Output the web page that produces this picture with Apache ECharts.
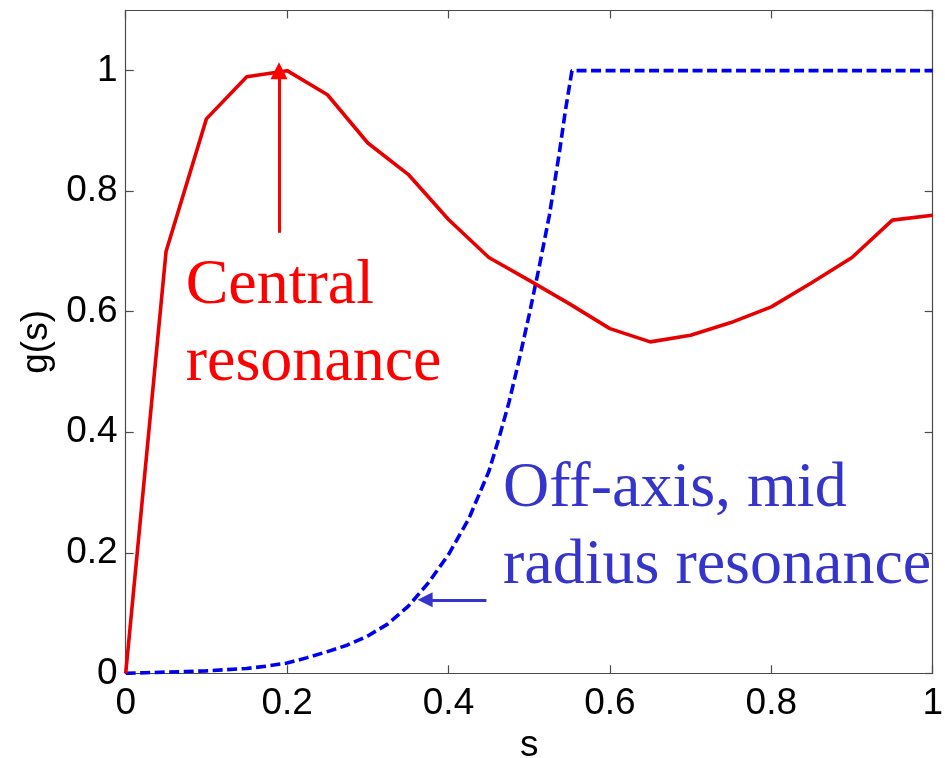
<!DOCTYPE html>
<html>
<head>
<meta charset="utf-8">
<script src="https://cdn.jsdelivr.net/npm/echarts@6/dist/echarts.min.js"></script>
<style>
  html, body { margin: 0; padding: 0; background: #ffffff; }
  #chart { width: 945px; height: 758px; }
</style>
</head>
<body>
<div id="chart"></div>
<script>
// Central resonance profile, sampled every 0.05 in s
const centralS = [0, 0.05, 0.1, 0.15, 0.2, 0.25, 0.3, 0.35, 0.4, 0.45, 0.5,
                  0.55, 0.6, 0.65, 0.7, 0.75, 0.8, 0.85, 0.9, 0.95, 1.0];
const centralG = [0, 0.70, 0.92, 0.99, 1.0, 0.96, 0.88, 0.828, 0.753, 0.69, 0.652,
                  0.613, 0.572, 0.55, 0.561, 0.582, 0.608, 0.648, 0.69, 0.752, 0.76];

// Off-axis, mid radius resonance profile (denser where it rises steeply)
const offAxisS = [0, 0.025, 0.05, 0.075, 0.1, 0.125, 0.15, 0.175, 0.2, 0.225, 0.25,
                  0.275, 0.3, 0.325, 0.35, 0.375, 0.4, 0.425, 0.45, 0.4625, 0.475,
                  0.4875, 0.5, 0.5125, 0.525, 0.5375, 0.545, 0.553, 1.0];
const offAxisG = [0, 0.001, 0.002, 0.003, 0.004, 0.006, 0.008, 0.012, 0.017, 0.026, 0.036,
                  0.047, 0.062, 0.082, 0.111, 0.150, 0.197, 0.256, 0.335, 0.39, 0.45,
                  0.52, 0.595, 0.675, 0.76, 0.865, 0.935, 1.0, 1.0];

// Axis ticks
const xTicks = [0, 0.2, 0.4, 0.6, 0.8, 1];
const yTicks = [0, 0.2, 0.4, 0.6, 0.8, 1];

// Annotation arrows: [tail, head] in data coordinates
const centralArrow = [[0.19, 0.731], [0.19, 1.0]];
const offAxisArrow = [[0.447, 0.122], [0.371, 0.122]];

// Annotation text blocks: top-left anchor in data coordinates
const centralLabel = { text: 'Central\nresonance', at: [0.0743, 0.706] };
const offAxisLabel = { text: 'Off-axis, mid\nradius resonance', at: [0.4675, 0.369] };

const RED = '#e80000';
const BLUE = '#0000f0';
const NOTE_RED = '#ff0000';
const NOTE_BLUE = '#3535cc';
const AXIS_COLOR = '#4a4a4a';
const TICK_FONT = "'Liberation Sans', Arial, Helvetica, sans-serif";
const NOTE_FONT = "'Liberation Serif', 'Times New Roman', serif";

const zip = (xs, ys) => xs.map((x, i) => [x, ys[i]]);

const chart = echarts.init(document.getElementById('chart'), null, { renderer: 'canvas' });

function axisCommon(extra) {
  return Object.assign({
    type: 'value',
    axisLine: { show: true, onZero: false, lineStyle: { color: AXIS_COLOR, width: 1.2 } },
    axisTick: { show: true, inside: true, length: 8, lineStyle: { color: AXIS_COLOR, width: 1.2 } },
    splitLine: { show: false }
  }, extra);
}

const tickLabel = (ticks) => (v) => {
  const hit = ticks.find(t => Math.abs(t - v) < 1e-9);
  return hit === undefined ? '' : String(hit);
};

function arrowMarkLine(points, color, headSize) {
  return {
    silent: true,
    animation: false,
    symbol: ['none', 'triangle'],
    symbolSize: headSize,
    label: { show: false },
    itemStyle: { color: color },
    lineStyle: { color: color, width: 3, type: 'solid', opacity: 1 },
    emphasis: { disabled: true },
    data: [[{ coord: points[0] }, { coord: points[1] }]]
  };
}

chart.setOption({
  animation: false,
  backgroundColor: '#ffffff',
  grid: {
    left: 125.7, right: 12.3, top: 10.4, bottom: 84.7,
    containLabel: false,
    outerBoundsMode: 'none'
  },
  xAxis: [
    axisCommon({
      position: 'bottom', min: 0, max: 1, interval: 0.2,
      name: 's', nameLocation: 'middle', nameGap: 52,
      nameTextStyle: { fontFamily: TICK_FONT, fontSize: 37, color: '#000' },
      axisLabel: { fontFamily: TICK_FONT, fontSize: 37, color: '#000', margin: 12,
                   formatter: tickLabel(xTicks) }
    }),
    axisCommon({
      position: 'top', min: 0, max: 1, interval: 0.2,
      axisLabel: { show: false }
    })
  ],
  yAxis: [
    axisCommon({
      position: 'left', min: 0, max: 1.1, interval: 0.2,
      name: 'g(s)', nameLocation: 'middle', nameGap: 69, nameRotate: 90,
      nameTextStyle: { fontFamily: TICK_FONT, fontSize: 37, color: '#000' },
      axisLabel: { fontFamily: TICK_FONT, fontSize: 37, color: '#000', margin: 8,
                   showMaxLabel: false, formatter: tickLabel(yTicks) }
    }),
    axisCommon({
      position: 'right', min: 0, max: 1.1, interval: 0.2,
      axisLabel: { show: false }
    })
  ],
  series: [
    {
      name: 'Central resonance',
      type: 'line',
      data: zip(centralS, centralG),
      showSymbol: false,
      symbol: 'none',
      lineStyle: { color: RED, width: 3.6 },
      z: 3,
      markLine: arrowMarkLine(centralArrow, NOTE_RED, 17)
    },
    {
      name: 'Off-axis, mid radius resonance',
      type: 'line',
      data: zip(offAxisS, offAxisG),
      showSymbol: false,
      symbol: 'none',
      lineStyle: { color: BLUE, width: 3.6, type: [10, 4.5] },
      z: 2,
      markLine: arrowMarkLine(offAxisArrow, NOTE_BLUE, 15)
    }
  ]
});

// Place the two text notes at their data-space anchors
function noteGraphic(label, color) {
  const p = chart.convertToPixel({ xAxisIndex: 0, yAxisIndex: 0 }, label.at);
  return {
    type: 'text',
    x: p[0],
    y: p[1],
    z: 10,
    silent: true,
    style: {
      text: label.text,
      fill: color,
      font: '64px ' + NOTE_FONT,
      lineHeight: 77,
      align: 'left',
      verticalAlign: 'top'
    }
  };
}

chart.setOption({
  graphic: [
    noteGraphic(centralLabel, NOTE_RED),
    noteGraphic(offAxisLabel, NOTE_BLUE)
  ]
});
</script>
</body>
</html>
